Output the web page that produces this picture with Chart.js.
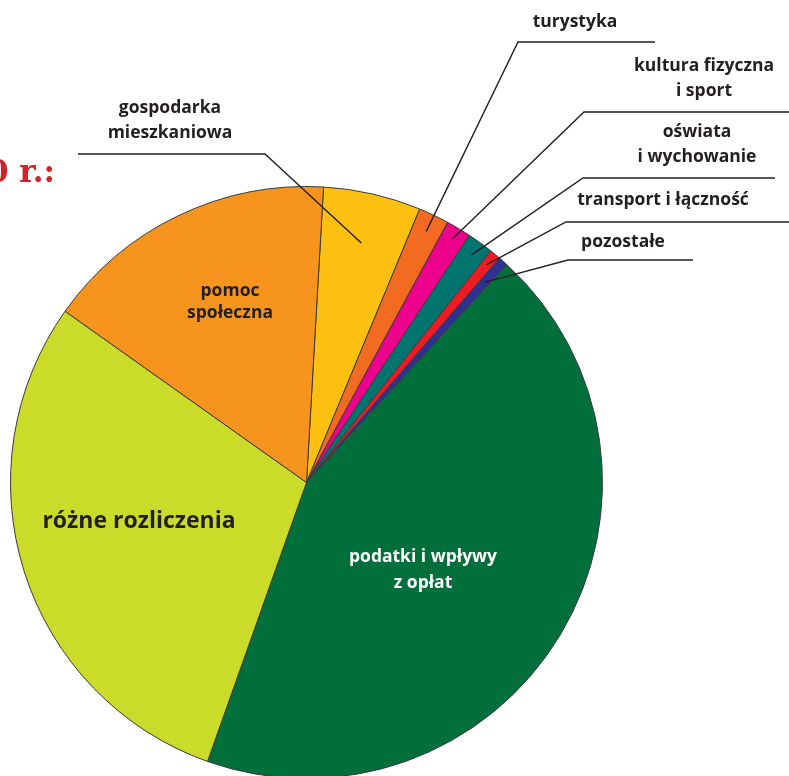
<!DOCTYPE html>
<html>
<head>
<meta charset="utf-8">
<style>
  html, body { margin: 0; padding: 0; background: #ffffff; overflow: hidden; }
  #wrap { width: 789px; height: 776px; overflow: hidden; position: relative; }
  canvas { display: block; }
</style>
<script src="https://cdn.jsdelivr.net/npm/chart.js@4.4.0/dist/chart.umd.min.js"></script>
</head>
<body>
<div id="wrap"><canvas id="c" width="789" height="800" style="width:789px;height:800px"></canvas></div>
<script>
// ---- data ----
const categories = [
  "gospodarka mieszkaniowa",
  "turystyka",
  "kultura fizyczna i sport",
  "oświata i wychowanie",
  "transport i łączność",
  "pozostałe",
  "podatki i wpływy z opłat",
  "różne rozliczenia",
  "pomoc społeczna"
];
const shares = [5.33, 1.67, 1.36, 1.42, 0.61, 0.53, 43.6, 29.4, 16.1];
const sliceColors = ["#FDC010", "#F26B21", "#EC008C", "#00746F", "#ED1C24", "#2E3192", "#006F3C", "#CBDB2A", "#F7941D"];
const titleText = "2010 r.:";

// label text lines per slice
const labelLines = [
  ["gospodarka", "mieszkaniowa"],
  ["turystyka"],
  ["kultura fizyczna", "i sport"],
  ["oświata", "i wychowanie"],
  ["transport i łączność"],
  ["pozostałe"],
  ["podatki i wpływy", "z opłat"],
  ["różne rozliczenia"],
  ["pomoc", "społeczna"]
];

// ---- layout (annotation placement) ----
const FONT = "'Open Sans', sans-serif";
const TEXT_DARK = "#231F20";
// outside labels with leader lines: slice index, leader depth into slice (fraction of radius),
// elbow point, end of horizontal, text centre x, first baseline
const outside = [
  { i: 0, f: 0.83, ex: 265, ey: 154, hx: 78,  tx: 170, ty: 113 },
  { i: 1, f: 0.94, ex: 518, ey: 42,  hx: 655, tx: 575, ty: 27 },
  { i: 2, f: 0.96, ex: 584, ey: 112, hx: 789, tx: 704, ty: 71 },
  { i: 3, f: 0.95, ex: 583, ey: 178, hx: 775, tx: 697, ty: 137 },
  { i: 4, f: 0.955, ex: 566, ey: 222, hx: 789, tx: 663, ty: 205 },
  { i: 5, f: 0.905, ex: 568, ey: 260, hx: 693, tx: 623, ty: 247 }
];
// inside labels: slice index, text centre, first baseline, size, line step, colour
const inside = [
  { i: 8, tx: 230, ty: 296, size: 17.5, step: 22, color: TEXT_DARK },
  { i: 7, tx: 139, ty: 528, size: 23, step: 26, color: TEXT_DARK },
  { i: 6, tx: 423, ty: 562, size: 17.5, step: 26, color: "#FFFFFF" }
];

const labelPlugin = {
  id: "labels",
  afterDraw(chart) {
    const ctx = chart.ctx;
    const arcs = chart.getDatasetMeta(0).data;
    ctx.save();
    // title fragment (cut by the left edge, as in the source)
    ctx.fillStyle = "#D2232A";
    ctx.font = "bold 31px 'DejaVu Serif', serif";
    ctx.textAlign = "right";
    ctx.textBaseline = "alphabetic";
    ctx.fillText(titleText, 55, 182);

    // leader lines
    ctx.strokeStyle = TEXT_DARK;
    ctx.lineWidth = 1.4;
    outside.forEach(o => {
      const a = arcs[o.i];
      const p = a.getProps(["x", "y", "startAngle", "endAngle", "outerRadius"], true);
      const mid = (p.startAngle + p.endAngle) / 2;
      const px = p.x + Math.cos(mid) * p.outerRadius * o.f;
      const py = p.y + Math.sin(mid) * p.outerRadius * o.f;
      ctx.beginPath();
      ctx.moveTo(px, py);
      ctx.lineTo(o.ex, o.ey);
      ctx.lineTo(o.hx, o.ey);
      ctx.stroke();
    });

    // outside texts
    ctx.textAlign = "center";
    ctx.fillStyle = TEXT_DARK;
    ctx.font = "bold 17.5px " + FONT;
    outside.forEach(o => {
      labelLines[o.i].forEach((t, k) => ctx.fillText(t, o.tx, o.ty + k * 25));
    });
    // inside texts
    inside.forEach(o => {
      ctx.fillStyle = o.color;
      ctx.font = "bold " + o.size + "px " + FONT;
      labelLines[o.i].forEach((t, k) => ctx.fillText(t, o.tx, o.ty + k * o.step));
    });
    ctx.restore();
  }
};

new Chart(document.getElementById("c"), {
  type: "pie",
  data: {
    labels: categories,
    datasets: [{
      data: shares,
      backgroundColor: sliceColors,
      borderColor: "#3a3a3a",
      borderWidth: 1,
      hoverOffset: 0,
      offset: 0
    }]
  },
  options: {
    responsive: false,
    animation: false,
    rotation: 3.3,
    layout: { padding: { left: 10, top: 186, right: 186, bottom: 21 } },
    plugins: { legend: { display: false }, tooltip: { enabled: false } },
    events: []
  },
  plugins: [labelPlugin]
});
</script>
</body>
</html>
